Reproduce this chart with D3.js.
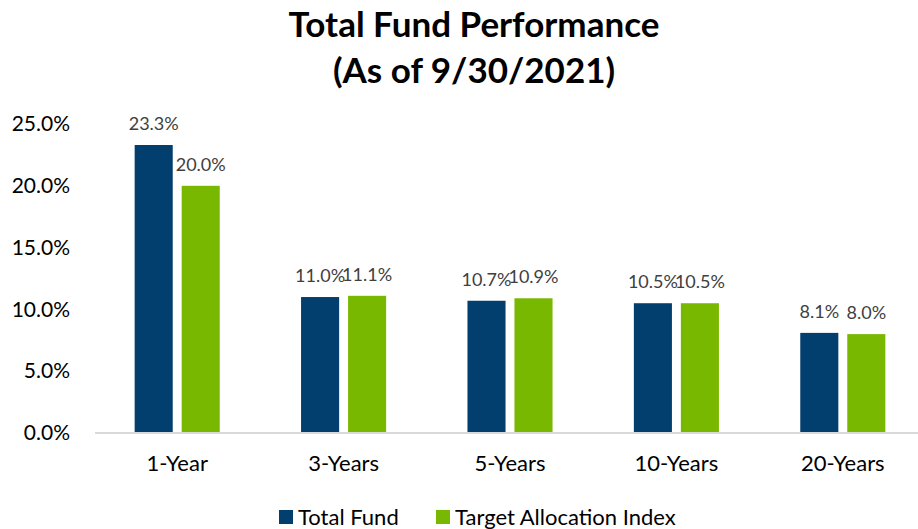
<!DOCTYPE html>
<meta charset="utf-8">
<head>
<style>
  body { margin: 0; background: #fff; }
  text { font-family: Lato, "Noto Sans", sans-serif; }
</style>
</head>
<body>
<svg width="918" height="529"></svg>
<script src="https://d3js.org/d3.v7.min.js"></script>
<script>
var periods = ["1-Year", "3-Years", "5-Years", "10-Years", "20-Years"];
var totalFund = [23.3, 11.0, 10.7, 10.5, 8.1];
var targetIndex = [20.0, 11.1, 10.9, 10.5, 8.0];
var seriesNames = ["Total Fund", "Target Allocation Index"];
var yTicks = [0, 5, 10, 15, 20, 25];

var colors = ["#023f6f", "#79b800"];

var svg = d3.select("svg");

var x = d3.scaleBand().domain(periods).range([94, 926]).paddingInner(0).paddingOuter(0);
var x1 = d3.scaleBand().domain(seriesNames).range([0, x.bandwidth()]).paddingInner(0.19).paddingOuter(0.865);
var y = d3.scaleLinear().domain([0, 25]).range([433, 124]);

// title
svg.append("text")
    .attr("x", 474).attr("y", 37)
    .attr("text-anchor", "middle")
    .attr("font-size", 35).attr("font-weight", "bold")
    .text("Total Fund Performance");
svg.append("text")
    .attr("x", 474).attr("y", 83)
    .attr("text-anchor", "middle")
    .attr("font-size", 35).attr("font-weight", "bold")
    .text("(As of 9/30/2021)");

// y axis labels only
var yAxis = svg.append("g")
    .attr("transform", "translate(70,0)")
    .call(d3.axisLeft(y).tickValues(yTicks).tickSize(0).tickPadding(0)
      .tickFormat(function(d) { return d.toFixed(1) + "%"; }));
yAxis.select(".domain").remove();
yAxis.selectAll("text").attr("font-size", 21).attr("fill", "#000")
    .style("font-family", "Lato, 'Noto Sans', sans-serif");

var rows = periods.map(function(p, i) {
  return {period: p, values: [totalFund[i], targetIndex[i]]};
});

var groups = svg.selectAll("g.cat")
    .data(rows)
  .enter().append("g")
    .attr("class", "cat")
    .attr("transform", function(d) { return "translate(" + x(d.period) + ",0)"; });

groups.selectAll("rect")
    .data(function(d) { return d.values.map(function(v, j) { return {name: seriesNames[j], v: v, j: j}; }); })
  .enter().append("rect")
    .attr("x", function(d) { return x1(d.name); })
    .attr("width", x1.bandwidth())
    .attr("y", function(d) { return y(d.v); })
    .attr("height", function(d) { return y(0) - y(d.v); })
    .attr("fill", function(d) { return colors[d.j]; });

groups.selectAll("text.val")
    .data(function(d) { return d.values.map(function(v, j) { return {name: seriesNames[j], v: v, j: j}; }); })
  .enter().append("text")
    .attr("class", "val")
    .attr("x", function(d) { return x1(d.name) + x1.bandwidth() / 2; })
    .attr("y", function(d) { return y(d.v) - 15; })
    .attr("text-anchor", "middle")
    .attr("font-size", 18)
    .attr("fill", "#404040")
    .text(function(d) { return d.v.toFixed(1) + "%"; });

// baseline
svg.append("line")
    .attr("x1", 95).attr("x2", 918)
    .attr("y1", y(0)).attr("y2", y(0))
    .attr("stroke", "#d9d9d9").attr("stroke-width", 2);

// x axis labels
var xAxis = svg.append("g")
    .attr("transform", "translate(0," + y(0) + ")")
    .call(d3.axisBottom(x).tickSize(0).tickPadding(22));
xAxis.select(".domain").remove();
xAxis.selectAll("text").attr("font-size", 22).attr("fill", "#000")
    .style("font-family", "Lato, 'Noto Sans', sans-serif");

// legend
var legendX = [279, 436];
var legend = svg.selectAll("g.legend")
    .data(seriesNames)
  .enter().append("g")
    .attr("class", "legend")
    .attr("transform", function(d, i) { return "translate(" + legendX[i] + ",510)"; });
legend.append("rect")
    .attr("width", 14).attr("height", 14)
    .attr("fill", function(d, i) { return colors[i]; });
legend.append("text")
    .attr("x", 19).attr("y", 15)
    .attr("font-size", 22).attr("fill", "#000")
    .text(function(d) { return d; });
</script>
</body>
